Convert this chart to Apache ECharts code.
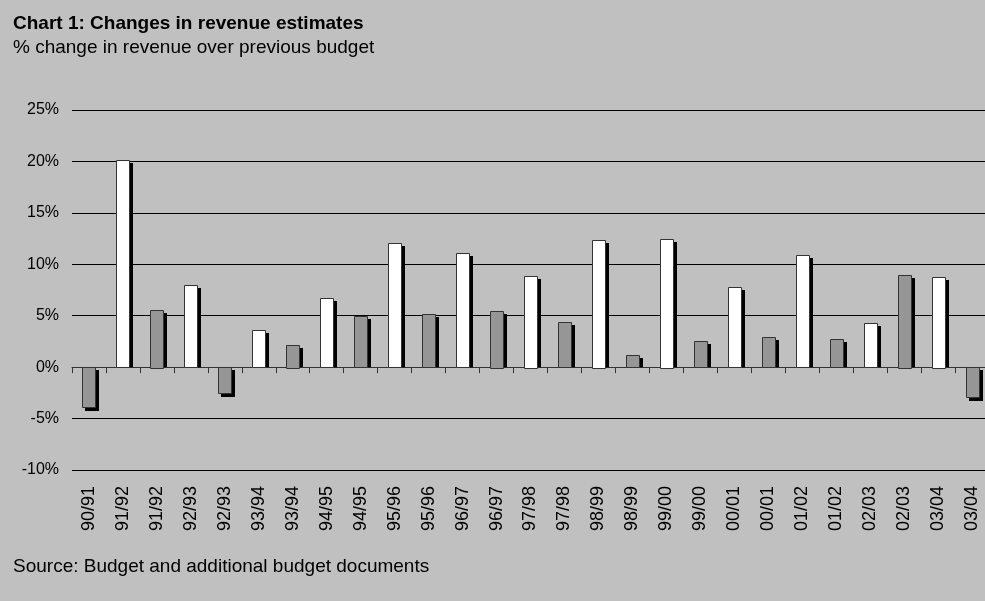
<!DOCTYPE html>
<html>
<head>
<meta charset="utf-8">
<script src="https://cdn.jsdelivr.net/npm/echarts@6/dist/echarts.min.js"></script>
<style>
  html, body { margin: 0; padding: 0; background: #c0c0c0; overflow: hidden; }
  #chart { width: 985px; height: 601px; }
</style>
</head>
<body>
<div id="chart"></div>
<script>
// 财年标签（每年两根柱：白色、灰色交替）
var categories = ['90/91', '91/92', '91/92', '92/93', '92/93', '93/94', '93/94', '94/95', '94/95',
    '95/96', '95/96', '96/97', '96/97', '97/98', '97/98', '98/99', '98/99', '99/00', '99/00',
    '00/01', '00/01', '01/02', '01/02', '02/03', '02/03', '03/04', '03/04'];
// 白色柱（'-' 表示该位置无值）
var whiteValues = ['-', 20.1, '-', 8.0, '-', 3.6, '-', 6.7, '-', 12.1, '-', 11.1, '-', 8.9, '-',
    12.4, '-', 12.5, '-', 7.8, '-', 10.9, '-', 4.3, '-', 8.8, '-'];
// 灰色柱
var greyValues = [-3.9, '-', 5.6, '-', -2.5, '-', 2.2, '-', 5.0, '-', 5.2, '-', 5.5, '-', 4.4, '-',
    1.2, '-', 2.5, '-', 2.9, '-', 2.7, '-', 9.0, '-', -2.9];
var yTicks = [-10, -5, 0, 5, 10, 15, 20, 25];

var myChart = echarts.init(document.getElementById('chart'));

// 带阴影的柱子：阴影向右下偏移，正值柱的阴影不越过零轴
function makeBar(fill) {
    return function (params, api) {
        var v = api.value(1);
        if (isNaN(v)) return;
        var p = api.coord([api.value(0), v]);
        var z = api.coord([api.value(0), 0]);
        var w = 13;
        var x = Math.round(p[0] - w / 2) + 0.5;
        var y1 = Math.round(Math.min(p[1], z[1])) + 0.5;
        var h = Math.round(Math.abs(z[1] - p[1]));
        // 阴影覆盖边框外沿，宽度与柱子（含边框）相同
        var sy = y1 - 0.5 + 3;
        var sh = v >= 0 ? (z[1] - sy) : (h + 1);
        return {
            type: 'group',
            children: [
                {
                    type: 'rect',
                    shape: { x: x - 0.5 + 3, y: sy, width: w + 1, height: Math.max(sh, 0) },
                    style: { fill: '#000' }
                },
                {
                    type: 'rect',
                    shape: { x: x, y: y1, width: w, height: h },
                    style: { fill: fill, stroke: '#333', lineWidth: 1 }
                }
            ]
        };
    };
}

var option = {
    backgroundColor: '#c0c0c0',
    animation: false,
    textStyle: { fontFamily: 'Liberation Sans, Arial, sans-serif' },
    title: [
        {
            text: 'Chart 1: Changes in revenue estimates',
            left: 8, top: 9,
            textStyle: { fontSize: 19, fontWeight: 'bold', color: '#000' }
        },
        {
            text: '% change in revenue over previous budget',
            left: 8, top: 33,
            textStyle: { fontSize: 19, fontWeight: 'normal', color: '#000' }
        },
        {
            text: 'Source: Budget and additional budget documents',
            left: 8, top: 552,
            textStyle: { fontSize: 19, fontWeight: 'normal', color: '#000' }
        }
    ],
    grid: {
        left: 72, right: -4, top: 110, bottom: 131,
        containLabel: false,
        outerBoundsMode: 'none'
    },
    xAxis: {
        type: 'category',
        data: categories,
        axisLine: { onZero: true, lineStyle: { color: '#333', width: 1 } },
        axisTick: { show: true, length: 6, lineStyle: { color: '#333' } },
        axisLabel: {
            rotate: 90,
            interval: 0,
            margin: 16,
            fontSize: 18,
            color: '#000'
        }
    },
    yAxis: {
        type: 'value',
        min: yTicks[0],
        max: yTicks[yTicks.length - 1],
        interval: 5,
        axisLine: { show: false },
        axisTick: { show: false },
        axisLabel: {
            formatter: '{value}%',
            fontSize: 16,
            color: '#000',
            margin: 13
        },
        splitLine: { lineStyle: { color: '#000', width: 1 } }
    },
    series: [
        {
            name: 'white',
            type: 'custom',
            renderItem: makeBar('#ffffff'),
            encode: { x: 0, y: 1 },
            data: whiteValues.map(function (v, i) { return [i, v]; })
        },
        {
            name: 'grey',
            type: 'custom',
            renderItem: makeBar('#969696'),
            encode: { x: 0, y: 1 },
            data: greyValues.map(function (v, i) { return [i, v]; })
        }
    ]
};

myChart.setOption(option);
</script>
</body>
</html>
